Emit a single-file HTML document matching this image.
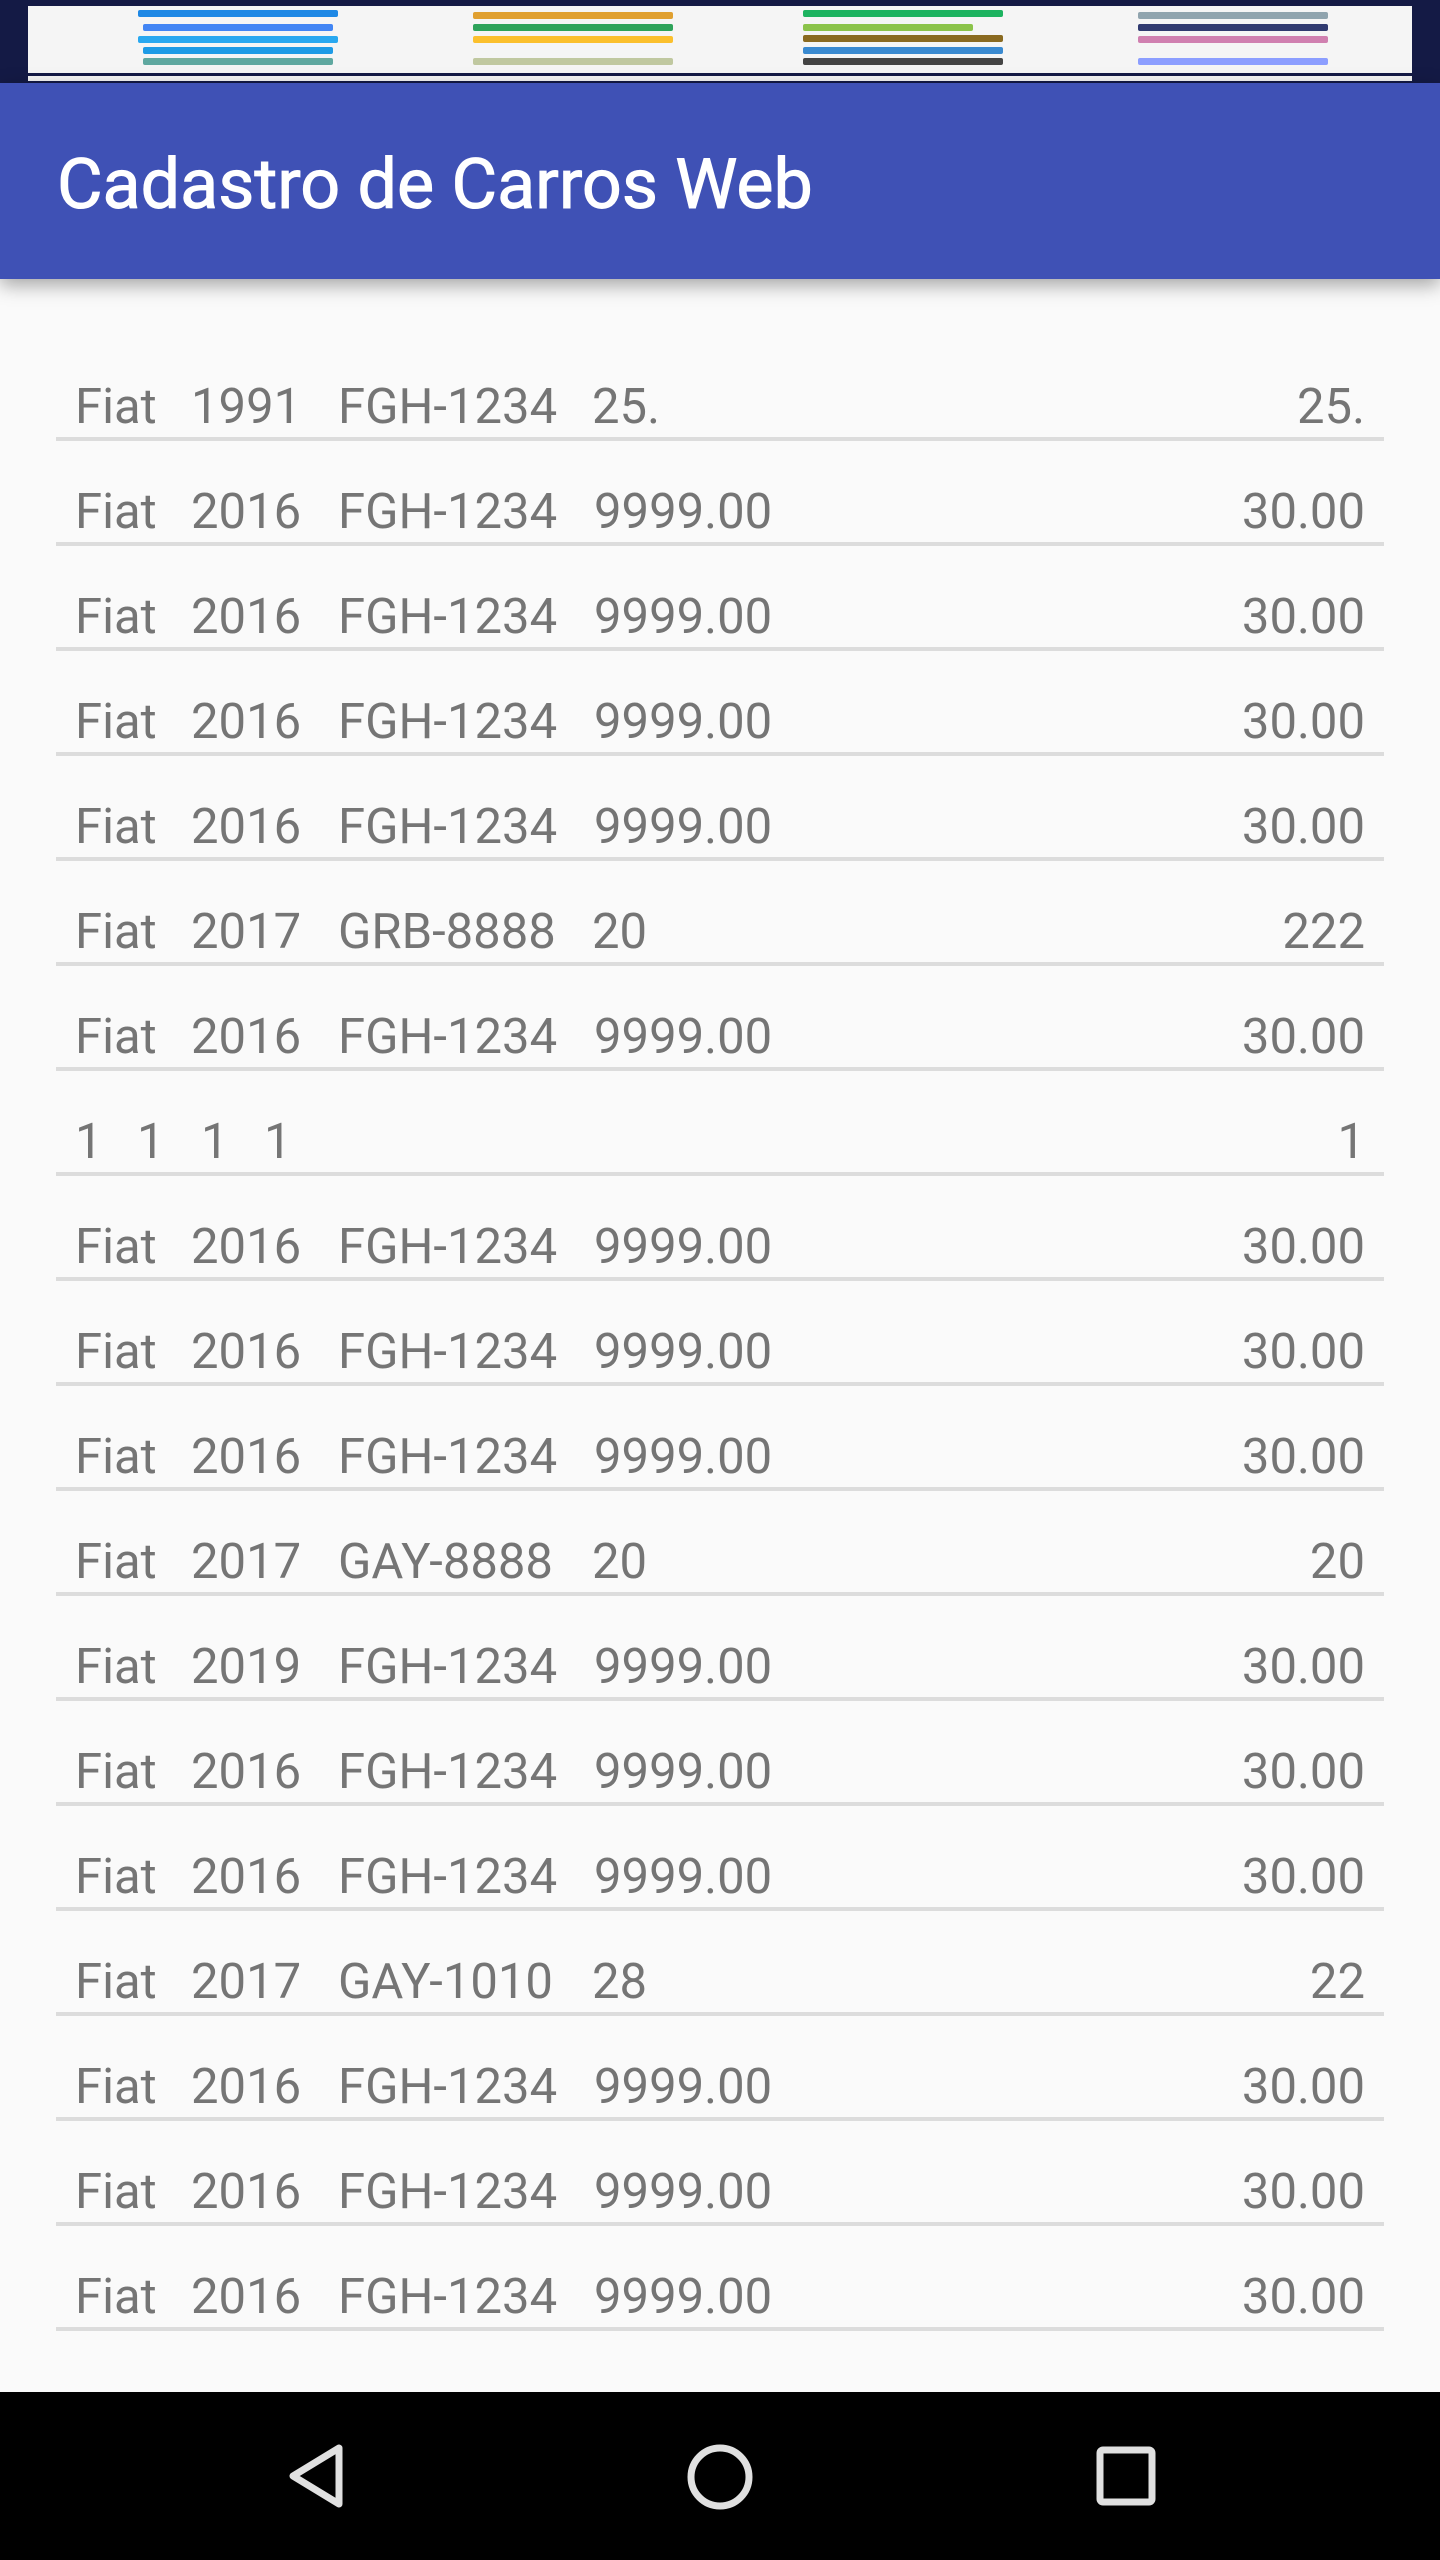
<!DOCTYPE html>
<html><head><meta charset="utf-8"><style>
body{margin:0;width:1440px;height:2560px;background:#fafafa;position:relative;overflow:hidden;font-family:"Roboto","Liberation Sans",sans-serif}
.abs{position:absolute}
#status{left:0;top:0;width:1440px;height:83px;background:#141a45}
#thumb{left:28px;top:6px;width:1384px;height:67px;background:#f5f5f5}
#thumb2{left:28px;top:76px;width:1384px;height:5px;background:#f5f5f5}
.tb{position:absolute;height:7px;border-radius:2px}
#appbar{left:0;top:83px;width:1440px;height:196px;background:#3f51b5;box-shadow:0 6px 18px rgba(0,0,0,.35);z-index:2}
#title{left:57px;top:4px;line-height:196px;color:#fff;font-size:70px;font-weight:normal;-webkit-text-stroke:1px #fff;white-space:nowrap}
.row{position:absolute;left:0;width:1440px;height:105px}
.t{position:absolute;top:0;font-size:49px;color:#757575;line-height:1;white-space:nowrap}
.r{right:75px}
.div{position:absolute;left:56px;width:1328px;height:4px;background:#dcdcdc;top:102px}
#nav{left:0;top:2392px;width:1440px;height:168px;background:#000}
</style></head><body>
<div id="status" class="abs">
 <div id="thumb" class="abs">
  <div class="tb" style="left:110px;top:4px;width:200px;background:#1e88e5"></div>
  <div class="tb" style="left:115px;top:18px;width:190px;background:#4285f4"></div>
  <div class="tb" style="left:110px;top:30px;width:200px;background:#29a8f0"></div>
  <div class="tb" style="left:115px;top:41px;width:190px;background:#1e9be6"></div>
  <div class="tb" style="left:115px;top:52px;width:190px;background:#5fa8a0"></div>
  <div class="tb" style="left:445px;top:6px;width:200px;background:#e0a030"></div>
  <div class="tb" style="left:445px;top:18px;width:200px;background:#2ea35a"></div>
  <div class="tb" style="left:445px;top:30px;width:200px;background:#fbc02d"></div>
  <div class="tb" style="left:445px;top:52px;width:200px;background:#c0c8a0"></div>
  <div class="tb" style="left:775px;top:4px;width:200px;background:#1db360"></div>
  <div class="tb" style="left:775px;top:18px;width:170px;background:#8bc34a"></div>
  <div class="tb" style="left:775px;top:29px;width:200px;background:#8a6a20"></div>
  <div class="tb" style="left:775px;top:41px;width:200px;background:#3a8ad0"></div>
  <div class="tb" style="left:775px;top:52px;width:200px;background:#444"></div>
  <div class="tb" style="left:1110px;top:6px;width:190px;background:#90a4ae"></div>
  <div class="tb" style="left:1110px;top:18px;width:190px;background:#303a70"></div>
  <div class="tb" style="left:1110px;top:30px;width:190px;background:#d080b0"></div>
  <div class="tb" style="left:1110px;top:52px;width:190px;background:#8c9eff"></div>
 </div>
 <div id="thumb2" class="abs"></div>
</div>
<div id="appbar" class="abs">
 <div id="title" class="abs">Cadastro de Carros Web</div>
</div>
<div id="list"></div>
<div id="nav" class="abs">
 <svg width="1440" height="168" style="position:absolute;left:0;top:0">
  <polygon points="339,56 339,112 293,84" fill="none" stroke="#e0e0e0" stroke-width="7" stroke-linejoin="round"/>
  <circle cx="720" cy="85" r="29" fill="none" stroke="#e0e0e0" stroke-width="7"/>
  <rect x="1100" y="58" width="52" height="52" rx="3" fill="none" stroke="#e0e0e0" stroke-width="7"/>
 </svg>
</div>
<script>
const brands=["Fiat","Fiat","Fiat","Fiat","Fiat","Fiat","Fiat","1","Fiat","Fiat","Fiat","Fiat","Fiat","Fiat","Fiat","Fiat","Fiat","Fiat","Fiat"];
const years=["1991","2016","2016","2016","2016","2017","2016","1","2016","2016","2016","2017","2019","2016","2016","2017","2016","2016","2016"];
const plates=["FGH-1234","FGH-1234","FGH-1234","FGH-1234","FGH-1234","GRB-8888","FGH-1234","1","FGH-1234","FGH-1234","FGH-1234","GAY-8888","FGH-1234","FGH-1234","FGH-1234","GAY-1010","FGH-1234","FGH-1234","FGH-1234"];
const values=["25.","9999.00","9999.00","9999.00","9999.00","20","9999.00","1","9999.00","9999.00","9999.00","20","9999.00","9999.00","9999.00","28","9999.00","9999.00","9999.00"];
const prices=["25.","30.00","30.00","30.00","30.00","222","30.00","1","30.00","30.00","30.00","20","30.00","30.00","30.00","22","30.00","30.00","30.00"];
const list=document.getElementById('list');
for(let i=0;i<brands.length;i++){
 const row=document.createElement('div');
 row.className='row';
 row.style.top=(335+105*i)+'px';
 
 
 const short=brands[i]==="1";
 const xs=short?[75,137,201,264]:[75,191,338,(values[i].length<=3?592:594)];
 const texts=[brands[i],years[i],plates[i],values[i]];
 const names=['car-brand','car-year','car-plate','car-value'];
 for(let j=0;j<4;j++){
  const s=document.createElement('span');
  s.className='t';
  s.style.left=xs[j]+'px';
  s.style.top='47px';
  s.textContent=texts[j];
  
  
  row.appendChild(s);
 }
 const p=document.createElement('span');
 p.className='t r';
 p.style.top='47px';
 p.textContent=prices[i];
 
 
 row.appendChild(p);
 const d=document.createElement('div');
 d.className='div';
 
 
 row.appendChild(d);
 list.appendChild(row);
}
</script>
</body></html>
